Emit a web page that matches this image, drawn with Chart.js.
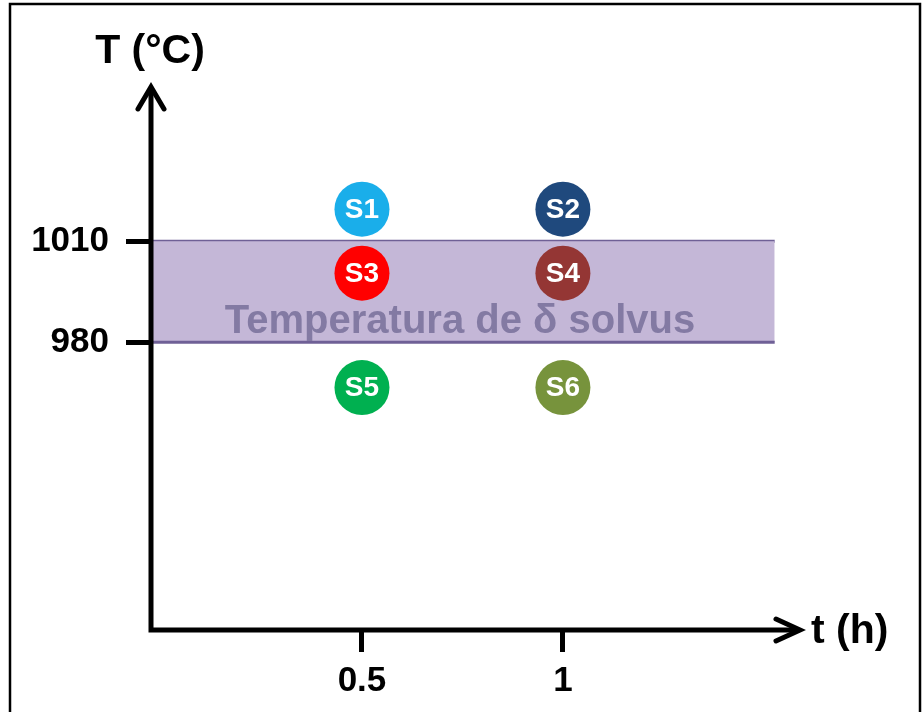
<!DOCTYPE html>
<html>
<head>
<meta charset="utf-8">
<script src="https://cdn.jsdelivr.net/npm/chart.js@4.4.0/dist/chart.umd.min.js"></script>
<style>
  html, body { margin: 0; padding: 0; background: #fff; }
  #box { width: 922px; height: 712px; }
</style>
</head>
<body>
<div id="box"><canvas id="myChart" width="922" height="712"></canvas></div>
<script>
const timeTicks = [0.5, 1];
const tempTicks = [980, 1010];
const sampleNames = ['S1', 'S2', 'S3', 'S4', 'S5', 'S6'];
const sampleTime = [0.5, 1, 0.5, 1, 0.5, 1];
const sampleTemp = [1019.5, 1019.5, 1000.5, 1000.5, 966.5, 966.5];
const sampleColors = ['#1aaeea', '#1f497d', '#ff0000', '#943634', '#00b050', '#77933c'];
const solvusRange = [980, 1010];
const solvusTimeSpan = [-0.025, 1.527];
const solvusLabel = 'Temperatura de \u03b4 solvus';

const xMin = -0.025, xMax = 1.585;
const yMin = 894.5, yMax = 1055.5;
const fontFam = '"Liberation Sans", Arial, sans-serif';

// axes with arrow heads, frame and free texts
const decorPlugin = {
    id: 'decor',
    beforeDraw(chart) {
        const ctx = chart.ctx;
        ctx.save();
        ctx.strokeStyle = '#000';
        ctx.lineWidth = 2.5;
        ctx.strokeRect(10, 4, 910, 720);
        ctx.restore();
    },
    afterDatasetsDraw(chart) {
        const ctx = chart.ctx;
        const a = chart.chartArea;
        ctx.save();
        // band label
        ctx.fillStyle = '#837aa3';
        ctx.font = 'bold 40px ' + fontFam;
        ctx.textAlign = 'center';
        ctx.textBaseline = 'alphabetic';
        ctx.fillText(solvusLabel, 460, 333);
        // sample names on the circles
        const meta = chart.getDatasetMeta(2);
        ctx.fillStyle = '#fff';
        ctx.font = 'bold 28px ' + fontFam;
        ctx.textBaseline = 'middle';
        meta.data.forEach((pt, i) => {
            ctx.fillText(sampleNames[i], pt.x, pt.y + 1);
        });
        // axes
        ctx.strokeStyle = '#000';
        ctx.lineWidth = 5;
        ctx.lineCap = 'butt';
        ctx.beginPath();
        ctx.moveTo(a.left, a.bottom + 2.5);
        ctx.lineTo(a.left, a.top);
        ctx.moveTo(a.left - 2.5, a.bottom);
        ctx.lineTo(a.right + 1, a.bottom);
        ctx.stroke();
        ctx.lineJoin = 'miter';
        ctx.lineCap = 'round';
        ctx.beginPath();
        ctx.moveTo(a.left - 13, a.top + 21);
        ctx.lineTo(a.left, a.top - 1);
        ctx.lineTo(a.left + 13, a.top + 21);
        ctx.moveTo(a.right - 22, a.bottom - 11);
        ctx.lineTo(a.right + 2, a.bottom);
        ctx.lineTo(a.right - 22, a.bottom + 11);
        ctx.stroke();
        // axis titles
        ctx.fillStyle = '#000';
        ctx.font = 'bold 41px ' + fontFam;
        ctx.textBaseline = 'alphabetic';
        ctx.textAlign = 'center';
        ctx.fillText('T (\u00b0C)', 150, 63);
        ctx.textAlign = 'left';
        ctx.fillText('t (h)', 811, 643);
        ctx.restore();
    }
};

const bandTop = solvusTimeSpan.map(t => ({x: t, y: solvusRange[1]}));
const bandBottom = solvusTimeSpan.map(t => ({x: t, y: solvusRange[0]}));
const samples = sampleTime.map((t, i) => ({x: t, y: sampleTemp[i]}));

const config = {
    type: 'scatter',
    data: {
        datasets: [
            {
                type: 'line',
                data: bandTop,
                borderColor: '#6f6096',
                borderWidth: 3,
                pointRadius: 0,
                fill: false,
                order: 3
            },
            {
                type: 'line',
                data: bandBottom,
                borderColor: '#6f6096',
                borderWidth: 3,
                pointRadius: 0,
                backgroundColor: '#c4b7d7',
                fill: '-1',
                order: 2
            },
            {
                data: samples,
                pointRadius: 27.5,
                pointHoverRadius: 27.5,
                pointBackgroundColor: sampleColors,
                pointBorderWidth: 0,
                order: 1
            }
        ]
    },
    options: {
        responsive: false,
        animation: false,
        events: [],
        layout: { padding: { left: 0, top: 88, right: 124, bottom: 0 } },
        plugins: {
            legend: { display: false },
            tooltip: { enabled: false }
        },
        scales: {
            x: {
                type: 'linear',
                min: xMin,
                max: xMax,
                afterFit: s => { s.height = 82; },
                afterBuildTicks: s => { s.ticks = timeTicks.map(v => ({value: v})); },
                border: { display: false },
                grid: {
                    drawOnChartArea: false,
                    drawTicks: true,
                    tickLength: 22,
                    tickWidth: 5,
                    tickColor: '#000'
                },
                ticks: {
                    color: '#000',
                    padding: 8,
                    font: { family: fontFam, size: 35, weight: 'bold', lineHeight: 1.2 },
                    maxRotation: 0,
                    autoSkip: false,
                    callback: v => String(v)
                }
            },
            y: {
                type: 'linear',
                min: yMin,
                max: yMax,
                afterFit: s => { s.width = 151; },
                afterBuildTicks: s => { s.ticks = tempTicks.map(v => ({value: v})); },
                border: { display: false },
                grid: {
                    drawOnChartArea: false,
                    drawTicks: true,
                    tickLength: 25,
                    tickWidth: 5,
                    tickColor: '#000'
                },
                ticks: {
                    color: '#000',
                    padding: 17,
                    font: { family: fontFam, size: 35, weight: 'bold', lineHeight: 1.2 },
                    autoSkip: false,
                    callback: v => String(v)
                }
            }
        }
    },
    plugins: [decorPlugin]
};

var myChart = new Chart(document.getElementById('myChart'), config);
</script>
</body>
</html>
